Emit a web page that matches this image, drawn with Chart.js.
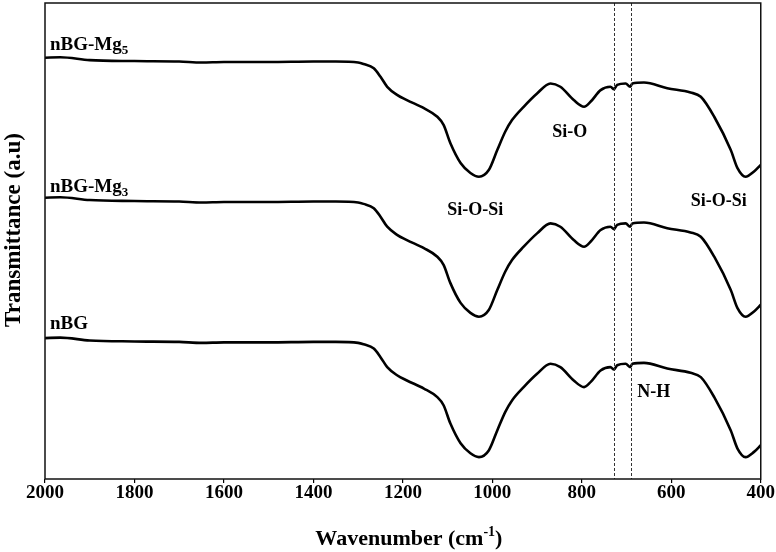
<!DOCTYPE html>
<html>
<head>
<meta charset="utf-8">
<script src="https://cdn.jsdelivr.net/npm/chart.js@4.4.1/dist/chart.umd.min.js"></script>
<style>
  html, body { margin: 0; padding: 0; background: #fff; }
  #wrap { width: 776px; height: 552px; }
</style>
</head>
<body>
<div id="wrap"><canvas id="myChart" width="776" height="552"></canvas></div>
<script>
// wavenumbers (cm-1), high to low
const wavenumbers = [2000, 1966, 1900, 1800, 1700, 1650, 1600, 1500, 1400, 1350, 1300, 1288, 1265, 1250, 1235, 1213, 1191, 1153, 1123, 1109, 1094, 1071, 1049, 1030, 1008, 989, 971, 956, 930, 900, 870, 848, 818, 795, 780, 758, 736, 728, 721, 702, 692, 687, 661, 609, 557, 534, 504, 467, 452, 434, 415, 400];

// transmittance (a.u), stacked
const nbgMg5 = [88.5, 88.6, 88.0, 87.8, 87.7, 87.5, 87.6, 87.6, 87.7, 87.7, 87.5, 87.2, 86.3, 84.5, 82.4, 80.7, 79.6, 77.9, 76.1, 74.4, 70.6, 66.4, 64.3, 63.5, 64.9, 69.1, 73.0, 75.4, 78.2, 81.0, 83.1, 82.4, 79.6, 78.2, 79.3, 81.7, 82.4, 81.9, 82.8, 83.1, 82.4, 83.1, 83.3, 82.1, 81.2, 80.3, 76.1, 69.1, 65.3, 63.5, 64.6, 66.0];
const nbgMg3 = [59.1, 59.2, 58.6, 58.4, 58.3, 58.1, 58.2, 58.2, 58.3, 58.3, 58.1, 57.8, 56.9, 55.1, 53.0, 51.3, 50.2, 48.5, 46.7, 45.0, 41.2, 37.0, 34.9, 34.1, 35.5, 39.7, 43.6, 46.0, 48.8, 51.6, 53.7, 53.0, 50.2, 48.8, 49.9, 52.3, 53.0, 52.5, 53.4, 53.7, 53.0, 53.7, 53.9, 52.7, 51.8, 50.9, 46.7, 39.7, 35.9, 34.1, 35.2, 36.6];
const nbg = [29.6, 29.7, 29.1, 28.9, 28.8, 28.6, 28.7, 28.7, 28.8, 28.8, 28.6, 28.3, 27.4, 25.6, 23.5, 21.8, 20.7, 19.0, 17.2, 15.5, 11.7, 7.5, 5.4, 4.6, 6.0, 10.2, 14.1, 16.5, 19.3, 22.1, 24.2, 23.5, 20.7, 19.3, 20.4, 22.8, 23.5, 23.0, 23.9, 24.2, 23.5, 24.2, 24.4, 23.2, 22.3, 21.4, 17.2, 10.2, 6.4, 4.6, 5.7, 7.1];

const xTicks = [2000, 1800, 1600, 1400, 1200, 1000, 800, 600, 400];
const dashedLines = [728, 690];

// series names: [main text, subscript, wavenumber, value]
const seriesLabels = [
  ['nBG-Mg', '5', 1989, 90.1],
  ['nBG-Mg', '3', 1989, 60.3],
  ['nBG', '', 1989, 31.5]
];
// band labels: [text, wavenumber, value]
const bandLabels = [
  ['Si-O-Si', 1038, 56.5],
  ['Si-O', 827, 72.9],
  ['Si-O-Si', 494, 58.4],
  ['N-H', 639, 18.3]
];

const FONT = '"Liberation Serif", "Times New Roman", serif';

function pts(arr) {
  return wavenumbers.map((w, i) => ({ x: w, y: arr[i] }));
}

// frame, dashed lines and texts
const extras = {
  id: 'extras',
  afterDraw(chart) {
    const ctx = chart.ctx;
    const a = chart.chartArea;
    const xs = chart.scales.x, ys = chart.scales.y;
    ctx.save();

    // dashed markers
    ctx.strokeStyle = '#333';
    ctx.lineWidth = 1;
    ctx.setLineDash([3, 2]);
    dashedLines.forEach(w => {
      const px = Math.round(xs.getPixelForValue(w)) + 0.5;
      ctx.beginPath();
      ctx.moveTo(px, a.top);
      ctx.lineTo(px, a.bottom);
      ctx.stroke();
    });
    ctx.setLineDash([]);

    // frame
    ctx.strokeStyle = '#111';
    ctx.lineWidth = 1.5;
    ctx.strokeRect(a.left, a.top, a.right - a.left, a.bottom - a.top);

    ctx.fillStyle = '#000';
    // series names
    ctx.textAlign = 'left';
    ctx.textBaseline = 'alphabetic';
    seriesLabels.forEach(s => {
      const x = xs.getPixelForValue(s[2]);
      const y = ys.getPixelForValue(s[3]);
      ctx.font = 'bold 19px ' + FONT;
      ctx.fillText(s[0], x, y);
      const w = ctx.measureText(s[0]).width;
      if (s[1]) {
        ctx.font = 'bold 13px ' + FONT;
        ctx.fillText(s[1], x + w, y + 4);
      }
    });

    // band names
    ctx.font = 'bold 18px ' + FONT;
    ctx.textAlign = 'center';
    ctx.textBaseline = 'middle';
    bandLabels.forEach(b => {
      ctx.fillText(b[0], xs.getPixelForValue(b[1]), ys.getPixelForValue(b[2]));
    });

    // x title with superscript
    const main = 'Wavenumber (cm', sup = '-1', close = ')';
    ctx.textAlign = 'left';
    ctx.textBaseline = 'alphabetic';
    ctx.font = 'bold 22px ' + FONT;
    const w1 = ctx.measureText(main).width;
    const w3 = ctx.measureText(close).width;
    ctx.font = 'bold 14px ' + FONT;
    const w2 = ctx.measureText(sup).width;
    let x0 = (a.left + a.right) / 2 + 6 - (w1 + w2 + w3) / 2;
    const by = 545;
    ctx.font = 'bold 22px ' + FONT;
    ctx.fillText(main, x0, by);
    ctx.font = 'bold 14px ' + FONT;
    ctx.fillText(sup, x0 + w1, by - 9);
    ctx.font = 'bold 22px ' + FONT;
    ctx.fillText(close, x0 + w1 + w2, by);

    // y title
    ctx.translate(14, 230);
    ctx.rotate(-Math.PI / 2);
    ctx.textAlign = 'center';
    ctx.textBaseline = 'middle';
    ctx.font = 'bold 23px ' + FONT;
    ctx.fillText('Transmittance (a.u)', 0, 0);
    ctx.restore();
  }
};

const ds = (label, arr) => ({
  label: label,
  data: pts(arr),
  borderColor: '#000',
  borderWidth: 2.6,
  pointRadius: 0,
  cubicInterpolationMode: 'monotone',
  fill: false
});

const ctx = document.getElementById('myChart').getContext('2d');
const myChart = new Chart(ctx, {
  type: 'line',
  data: {
    datasets: [ds('nBG-Mg5', nbgMg5), ds('nBG-Mg3', nbgMg3), ds('nBG', nbg)]
  },
  options: {
    responsive: false,
    animation: false,
    layout: { padding: { top: 3, right: 15, left: 0, bottom: 0 } },
    plugins: { legend: { display: false }, tooltip: { enabled: false } },
    scales: {
      x: {
        type: 'linear',
        reverse: true,
        min: 400,
        max: 2000,
        afterBuildTicks: s => { s.ticks = xTicks.map(v => ({ value: v })); },
        afterFit: s => { s.height = 73; },
        border: { display: false },
        grid: { drawOnChartArea: false, drawTicks: true, tickLength: 4, color: '#000', lineWidth: 1.2 },
        ticks: {
          color: '#000',
          padding: 1,
          maxRotation: 0,
          callback: v => String(v),
          font: { family: FONT, size: 19, weight: 'bold', lineHeight: 1 }
        }
      },
      y: {
        min: 0,
        max: 100,
        afterFit: s => { s.width = 45; },
        border: { display: false },
        grid: { display: false },
        ticks: { display: false }
      }
    }
  },
  plugins: [extras]
});
</script>
</body>
</html>
